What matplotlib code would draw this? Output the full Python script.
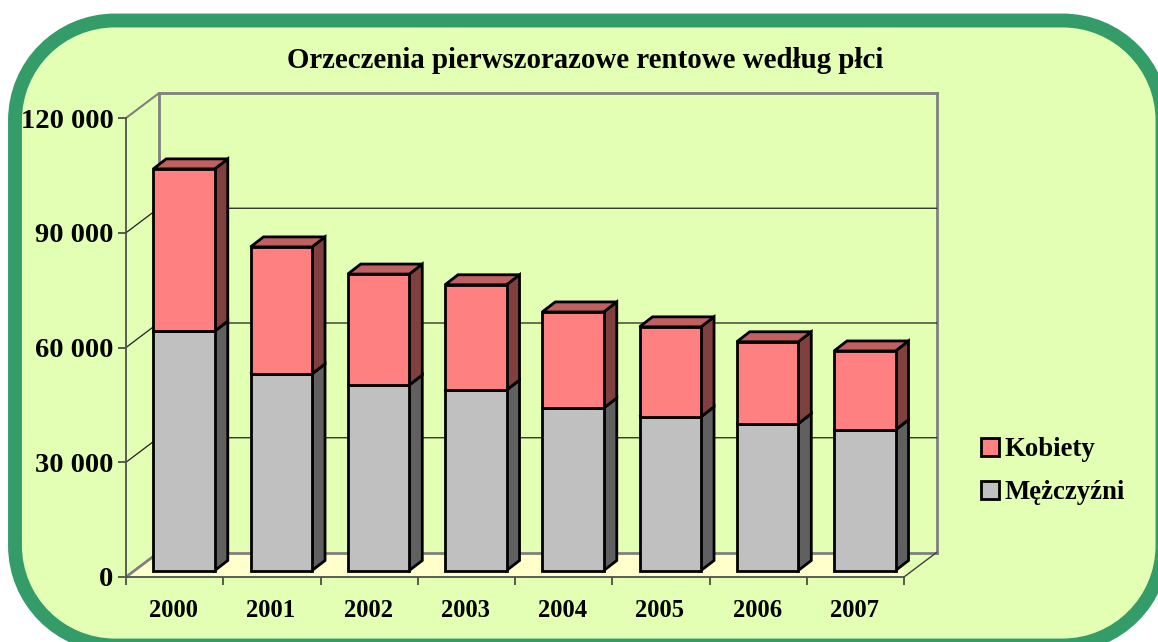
import matplotlib
matplotlib.use("Agg")
import matplotlib.pyplot as plt
from matplotlib.patches import PathPatch, Polygon, Patch
from matplotlib.path import Path

plt.rcParams['font.family'] = ['Liberation Serif', 'DejaVu Serif']

years = ['2000', '2001', '2002', '2003', '2004', '2005', '2006', '2007']
men = [62600, 51400, 48500, 47200, 42500, 40200, 38400, 36800]
women = [42400, 33200, 29000, 27500, 25100, 23500, 21400, 20600]
yticks = [0, 30000, 60000, 90000, 120000]
ylabels = ['0', '30 000', '60 000', '90 000', '120 000']
title = 'Orzeczenia pierwszorazowe rentowe według płci'

W, H = 1158, 642
fig = plt.figure(figsize=(W / 100, H / 100), dpi=100, facecolor='white')

# rounded panel, in pixel coordinates, with circular corners
bg = fig.add_axes([0, 0, 1, 1])
bg.set_xlim(0, W); bg.set_ylim(H, 0); bg.axis('off')
x0, y0, x1, y1, r = 15, 20.5, 1162.5, 645.5, 100
c = r * 0.4477
panel = Path([(x0 + r, y0), (x1 - r, y0),
              (x1 - c, y0), (x1, y0 + c), (x1, y0 + r), (x1, y1 - r),
              (x1, y1 - c), (x1 - c, y1), (x1 - r, y1), (x0 + r, y1),
              (x0 + c, y1), (x0, y1 - c), (x0, y1 - r), (x0, y0 + r),
              (x0, y0 + c), (x0 + c, y0), (x0 + r, y0), (x0 + r, y0)],
             [Path.MOVETO, Path.LINETO,
              Path.CURVE4, Path.CURVE4, Path.CURVE4, Path.LINETO,
              Path.CURVE4, Path.CURVE4, Path.CURVE4, Path.LINETO,
              Path.CURVE4, Path.CURVE4, Path.CURVE4, Path.LINETO,
              Path.CURVE4, Path.CURVE4, Path.CURVE4, Path.CLOSEPOLY])
bg.add_patch(PathPatch(panel, fc='#E3FFB3', ec='#349C69', lw=10))

# chart axes: x = category slots, y = value
L, R, B, T = 126, 904, 577, 118
ax = fig.add_axes([L / W, 1 - B / H, (R - L) / W, (B - T) / H])
ax.patch.set_alpha(0)
ax.set_xlim(0, len(years)); ax.set_ylim(0, 120000)
px_x = len(years) / (R - L)
px_y = 120000 / (B - T)
DX, DY = 32.5 * px_x, 24.5 * px_y          # wall depth
bdx, bdy = 13 * px_x, 10 * px_y            # bar depth
lift = 6.5 * px_y
shift = 9.4 * px_x
bw = 61.5 * px_x
n = len(years)

ax.add_patch(Polygon([(0, 0), (DX, DY), (n + DX, DY), (n, 0)], fc='#FFFFCC', ec='none', zorder=1))
grey = '#808080'
kw = dict(clip_on=False)
ax.plot([DX, DX], [DY, 120000 + DY], color=grey, lw=2, zorder=2, **kw)
ax.plot([n + DX, n + DX], [DY, 120000 + DY], color=grey, lw=2, zorder=2, **kw)
ax.plot([DX, n + DX], [120000 + DY] * 2, color=grey, lw=2, zorder=2, **kw)
ax.plot([DX, n + DX], [DY, DY], color=grey, lw=2, zorder=2, **kw)
ax.plot([0, DX], [120000, 120000 + DY], color=grey, lw=1.5, zorder=2, **kw)
ax.plot([0, DX], [0, DY], color=grey, lw=2, zorder=2, **kw)
ax.plot([n, n + DX], [0, DY], color='#404040', lw=1, zorder=2, **kw)
for v in yticks[1:-1]:
    ax.plot([0, DX, n + DX], [v, v + DY, v + DY], color='#202020', lw=0.9, zorder=2, **kw)


def prism(x, b, t, front, side, top):
    ax.bar(x, t - b, bw, bottom=b, align='edge', color=front, edgecolor='black', lw=2, zorder=4)
    ax.add_patch(Polygon([(x + bw, b), (x + bw + bdx, b + bdy), (x + bw + bdx, t + bdy), (x + bw, t)],
                         fc=side, ec='black', lw=2, zorder=3.5, clip_on=False, joinstyle='miter'))
    ax.add_patch(Polygon([(x, t), (x + bdx, t + bdy), (x + bw + bdx, t + bdy), (x + bw, t)],
                         fc=top, ec='black', lw=2, zorder=3.5, clip_on=False, joinstyle='miter'))


for i in range(n):
    x = i + (1 - bw) / 2 + shift
    prism(x, lift, lift + men[i], '#C0C0C0', '#606060', '#909090')
    prism(x, lift + men[i], lift + men[i] + women[i], '#FF8080', '#804040', '#C06060')

for s in ['top', 'right']:
    ax.spines[s].set_visible(False)
for s in ['left', 'bottom']:
    ax.spines[s].set_color('#505050'); ax.spines[s].set_linewidth(1.3); ax.spines[s].set_zorder(2.5)
ax.set_yticks(yticks, ylabels, fontsize=20.5, fontweight='bold')
ax.set_xticks(range(n + 1))
ax.set_xticklabels([])
ax.set_xticks([i + 0.49 for i in range(n)], years, minor=True, fontsize=17.7, fontweight='bold')
ax.tick_params(axis='x', which='major', length=6, width=1.1, color='#303030')
ax.tick_params(axis='x', which='minor', length=0, pad=15.5)
ax.tick_params(axis='y', length=6, width=1.1, color='#303030', pad=3)

fig.text(585 / W, 1 - 60.5 / H, title, ha='center', va='center', fontsize=20.8, fontweight='bold')

handles = [Patch(fc='#FF8080', ec='black', lw=2), Patch(fc='#C0C0C0', ec='black', lw=2)]
fig.legend(handles, ['Kobiety', 'Mężczyźni'], loc='upper left',
           bbox_to_anchor=(973 / W, 1 - 429 / H), frameon=False,
           prop=dict(size=19.3, weight='bold'), handlelength=0.67, handleheight=0.67,
           handletextpad=0.21, labelspacing=0.68, borderpad=0.3, borderaxespad=0)

fig.savefig('out.png', dpi=100)
